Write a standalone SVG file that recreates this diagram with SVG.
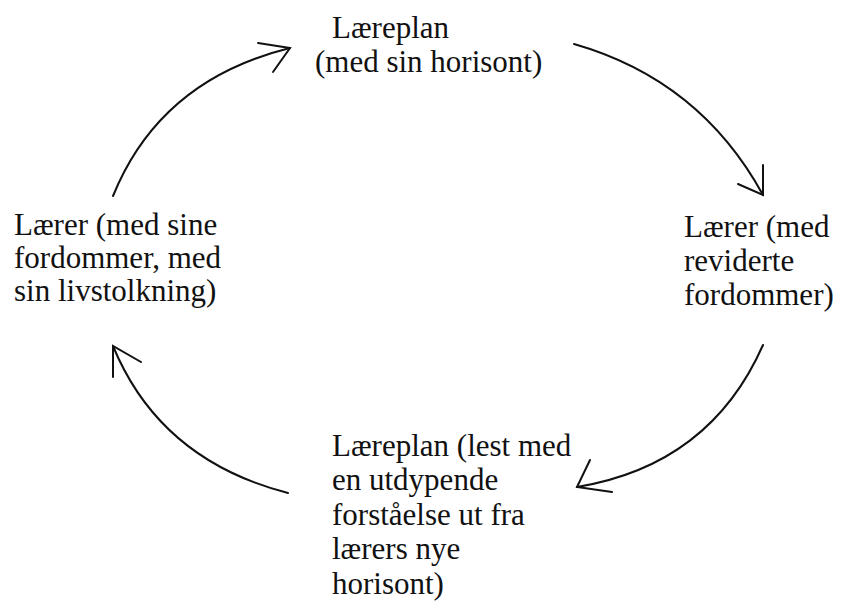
<svg xmlns="http://www.w3.org/2000/svg" width="841" height="608" viewBox="0 0 841 608">
<style>
text{font-family:"Liberation Serif","Times New Roman",serif;font-size:31px;fill:#111}
.c{fill:none;stroke:#111;stroke-width:2;stroke-linecap:round}
</style>
<rect width="841" height="608" fill="#fff"/>
<g id="node-top"><text x="332" y="38">Læreplan</text><text x="315" y="72">(med sin horisont)</text></g>
<g id="node-right"><text x="684" y="237">Lærer (med</text><text x="684" y="271">reviderte</text><text x="684" y="305">fordommer)</text></g>
<g id="node-bottom"><text x="332" y="456">Læreplan (lest med</text><text x="332" y="490">en utdypende</text><text x="332" y="525">forståelse ut fra</text><text x="332" y="559">lærers nye</text><text x="332" y="594">horisont)</text></g>
<g id="node-left"><text x="14" y="235">Lærer (med sine</text><text x="14" y="268">fordommer, med</text><text x="14" y="301">sin livstolkning)</text></g>
<g id="connectors">
<path class="c" d="M113 196 Q160 80 290 48"/><path class="c" d="M258 43 L290 48 L273 72"/>
<path class="c" d="M574 44 Q700 80 763 195"/><path class="c" d="M763 165 L763 195 L738 184"/>
<path class="c" d="M763 345 Q710 465 577 487"/><path class="c" d="M590 460 L577 487 L612 492"/>
<path class="c" d="M288 493 Q160 460 113 346"/><path class="c" d="M113 377 L113 346 L141 362"/>
</g>
</svg>
